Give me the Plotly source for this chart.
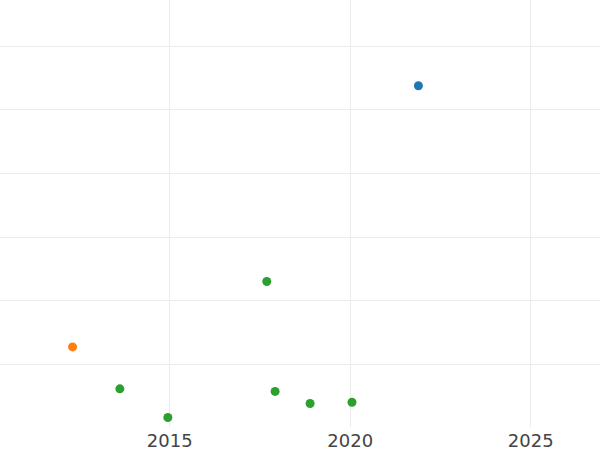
import plotly.graph_objects as go

blue_x = [2021.89]
blue_y = [53.8]
orange_x = [2012.31]
orange_y = [12.7]
green_x = [2013.62, 2014.95, 2017.69, 2017.92, 2018.89, 2020.05]
green_y = [6.1, 1.6, 23.0, 5.7, 3.8, 4.0]

x_ticks = [2015, 2020, 2025]

fig = go.Figure()
for xs, ys, c in [(blue_x, blue_y, "#1f77b4"), (orange_x, orange_y, "#ff7f0e"), (green_x, green_y, "#2ca02c")]:
    fig.add_trace(go.Scatter(x=xs, y=ys, mode="markers",
                             marker=dict(color=c, size=9), showlegend=False))

fig.update_layout(
    width=600, height=450,
    margin=dict(l=0, r=0, t=0, b=23, autoexpand=False),
    paper_bgcolor="white", plot_bgcolor="white",
    font=dict(family="DejaVu Sans", size=18, color="#444"),
    xaxis=dict(range=[2010.30, 2026.92], tickvals=x_ticks, ticktext=[str(t) for t in x_ticks],
               showgrid=True, gridcolor="#ebebeb", gridwidth=1, zeroline=False, showline=False,
               ticks="", ticklabelstandoff=1, automargin=False),
    yaxis=dict(range=[0.1, 67.3], dtick=10, tick0=0, showticklabels=False,
               showgrid=True, gridcolor="#ebebeb", gridwidth=1, zeroline=False, showline=False,
               automargin=False),
)
fig.write_html("out.html", config={"displayModeBar": False},
               post_script="document.body.style.margin='0';document.body.style.padding='0';")
